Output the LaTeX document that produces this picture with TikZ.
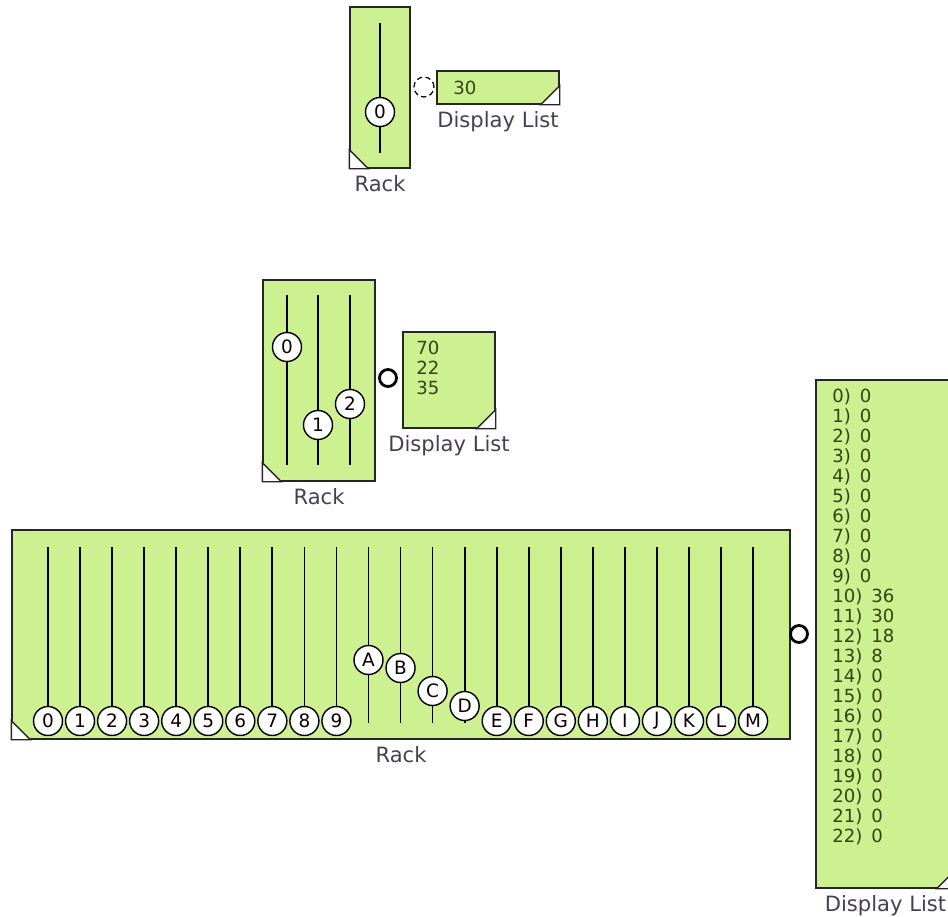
\documentclass[tikz,border=0pt]{standalone}
\usepackage{fontspec}
\setmainfont{DejaVu Sans}
\usetikzlibrary{positioning,fit}
\definecolor{rackfill}{RGB}{205,241,145}
\definecolor{listtext}{RGB}{50,68,14}
\definecolor{captext}{RGB}{72,62,82}
\newcommand{\listrow}[2]{#1)\hspace{0.5em}#2}

\begin{document}
\begin{tikzpicture}[x=0.02cm, y=-0.02cm,
    panel/.style={draw=black!85, fill=rackfill, line width=0.8pt, inner sep=0pt},
    corner/.style={fill=white, draw=black!85, line width=0.8pt},
    rail/.style={line width=1pt},
    knob/.style={circle, draw=black, fill=white, line width=0.8pt, inner sep=0pt,
                 minimum size=0.58cm, font=\fontsize{10.5}{11}\selectfont},
    port/.style={circle, draw=black, line width=1.6pt, inner sep=0pt, minimum size=0.34cm},
    caption/.style={text=captext, font=\fontsize{12}{14}\selectfont, inner sep=0pt},
    listbody/.style={text=listtext, font=\fontsize{10.3}{11.4}\selectfont,
                     align=left, inner sep=0pt, anchor=north west}]
  \useasboundingbox (0,0) rectangle (948,917);

  % single slider rack
  \node[panel, fit={(350,7) (410,168)}] (rackA) {};
  \draw[rail] (380,23) -- (380,153);
  \node[knob] (kA0) at (380,112) {0};
  \filldraw[corner] (rackA.south west) -- ++(0,-19) -- ++(19,19) -- cycle;
  \node[caption, below=0.13cm of rackA] (capA) {Rack};
  \node[port, densely dashed, line width=0.7pt, minimum size=0.4cm] (portA) at (424,87) {};
  \node[panel, fit={(437,71) (559,104)}] (listA) {};
  \filldraw[corner] (listA.south east) -- ++(-19,0) -- ++(19,-19) -- cycle;
  \node[listbody] (valsA) at (453,81) {30};
  \node[caption, below=0.13cm of listA] (capListA) {Display List};

  % three slider rack
  \node[panel, fit={(263,280) (375,481)}] (rackB) {};
  \foreach \lab/\kx/\ky in {0/287/347, 1/318/425, 2/350/404} {
    \draw[rail] (\kx,295) -- (\kx,465);
    \node[knob] (kB\lab) at (\kx,\ky) {\lab};
  }
  \filldraw[corner] (rackB.south west) -- ++(0,-19) -- ++(19,19) -- cycle;
  \node[caption, below=0.13cm of rackB] (capB) {Rack};
  \node[port] (portB) at (388,378) {};
  \node[panel, fit={(403,332) (495,428)}] (listB) {};
  \filldraw[corner] (listB.south east) -- ++(-19,0) -- ++(19,-19) -- cycle;
  \node[listbody] (valsB) at (416,341) {70\\22\\35};
  \node[caption, below=0.13cm of listB] (capListB) {Display List};

  % wide rack
  \node[panel, fit={(12,530) (790,739)}] (rackC) {};
  \foreach \lab/\ky [count=\i from 0] in {0/721, 1/721, 2/721, 3/721, 4/721,
      5/721, 6/721, 7/721, 8/721, 9/721, A/660, B/668, C/691, D/706, E/721,
      F/721, G/721, H/721, I/721, J/721, K/721, L/721, M/721} {
    \pgfmathsetmacro\kx{48+32.05*\i}
    \draw[rail] (\kx,547) -- (\kx,723);
    \node[knob] (kC\lab) at (\kx,\ky) {\lab};
  }
  \filldraw[corner] (rackC.south west) -- ++(0,-19) -- ++(19,19) -- cycle;
  \node[caption, below=0.13cm of rackC] (capC) {Rack};
  \node[port] (portC) at (799,634) {};
  \node[panel, fit={(816,380) (955,888)}] (listC) {};
  \filldraw[corner] (listC.south east) -- ++(-19,0) -- ++(19,-19) -- cycle;
  \node[listbody] (valsC) at (832,388)
    {\listrow{0}{0}\\\listrow{1}{0}\\\listrow{2}{0}\\\listrow{3}{0}\\
     \listrow{4}{0}\\\listrow{5}{0}\\\listrow{6}{0}\\\listrow{7}{0}\\
     \listrow{8}{0}\\\listrow{9}{0}\\\listrow{10}{36}\\\listrow{11}{30}\\
     \listrow{12}{18}\\\listrow{13}{8}\\\listrow{14}{0}\\\listrow{15}{0}\\
     \listrow{16}{0}\\\listrow{17}{0}\\\listrow{18}{0}\\\listrow{19}{0}\\
     \listrow{20}{0}\\\listrow{21}{0}\\\listrow{22}{0}};
  \node[caption, below=0.13cm of listC] (capListC) {Display List};
\end{tikzpicture}
\end{document}
